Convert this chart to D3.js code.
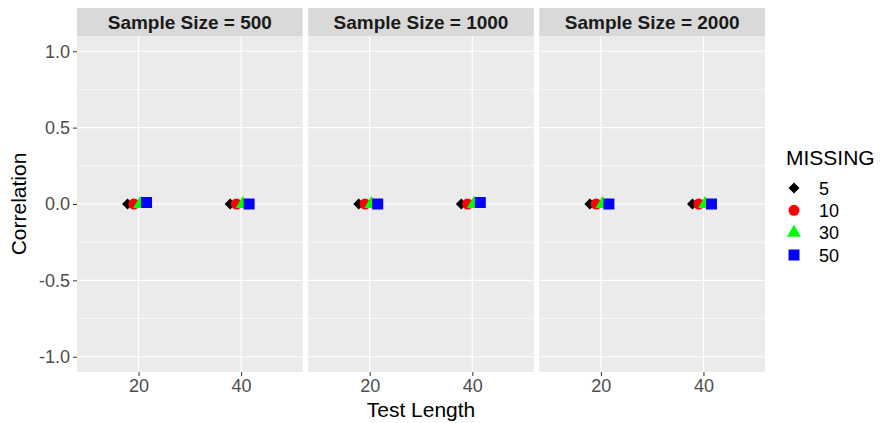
<!DOCTYPE html>
<html>
<head>
<meta charset="utf-8">
<script src="https://cdn.jsdelivr.net/npm/d3@7"></script>
<style>
  body { margin: 0; background: #fff; }
  svg { display: block; font-family: "Liberation Sans", Arial, sans-serif; }
</style>
</head>
<body>
<svg id="chart" width="880" height="423"></svg>
<script>
// data
const sampleSizes = [500, 1000, 2000];
const testLengths = [20, 40];
const missingLevels = [5, 10, 30, 50];
// order: [500-20, 500-40, 1000-20, 1000-40, 2000-20, 2000-40]
const missing5 = [0.00, 0.00, 0.00, 0.00, 0.00, 0.00];
const missing10 = [0.00, 0.00, 0.00, 0.00, 0.00, 0.00];
const missing30 = [0.00, 0.00, 0.00, 0.00, 0.00, 0.00];
const missing50 = [0.01, 0.00, 0.00, 0.01, 0.00, 0.00];
const yTicks = [-1.0, -0.5, 0.0, 0.5, 1.0];
const yMinor = [-0.75, -0.25, 0.25, 0.75];

const seriesValues = [missing5, missing10, missing30, missing50];
const colors = ["#000000", "#ff0000", "#00ff00", "#0000ff"];
const shapes = [
	d3.symbol().type(d3.symbolSquare).size(60),
	d3.symbol().type(d3.symbolCircle).size(95),
	d3.symbol().type(d3.symbolTriangle).size(85),
	d3.symbol().type(d3.symbolSquare).size(121)
];
const rotations = [45, 0, 0, 0];

const svg = d3.select("#chart");

const plotLeft = 77, plotRight = 765;
const panelTop = 36, panelBottom = 372;
const stripTop = 8;

const facetScale = d3.scaleBand().domain(sampleSizes).range([plotLeft, plotRight]).paddingInner(0.0238);
const panelW = facetScale.bandwidth();
const xScale = d3.scalePoint().domain(testLengths).range([0, panelW]).padding(0.6);
const dodge = d3.scalePoint().domain(missingLevels).range([-11, 8]);
const yScale = d3.scaleLinear().domain([-1.1, 1.1]).range([panelBottom, panelTop]);

const points = [];
sampleSizes.forEach((s, si) => {
	testLengths.forEach((t, ti) => {
		missingLevels.forEach((m, mi) => {
			points.push({ sample: s, length: t, missing: m, mi: mi, value: seriesValues[mi][si * 2 + ti] });
		});
	});
});

sampleSizes.forEach((s, si) => {
	const panelG = svg.append("g")
		.attr("transform", `translate(${facetScale(s)}, 0)`);

	// panel background
	panelG.append("rect")
		.attr("x", 0).attr("y", panelTop)
		.attr("width", panelW).attr("height", panelBottom - panelTop)
		.attr("fill", "#ebebeb");

	// minor grid
	panelG.selectAll(".minor")
		.data(yMinor)
		.enter()
		.append("line")
		.attr("x1", 0).attr("x2", panelW)
		.attr("y1", d => yScale(d)).attr("y2", d => yScale(d))
		.attr("stroke", "#fff").attr("stroke-width", 0.6);

	// major grid
	panelG.selectAll(".majorY")
		.data(yTicks)
		.enter()
		.append("line")
		.attr("x1", 0).attr("x2", panelW)
		.attr("y1", d => yScale(d)).attr("y2", d => yScale(d))
		.attr("stroke", "#fff").attr("stroke-width", 1.2);

	panelG.selectAll(".majorX")
		.data(testLengths)
		.enter()
		.append("line")
		.attr("x1", d => xScale(d)).attr("x2", d => xScale(d))
		.attr("y1", panelTop).attr("y2", panelBottom)
		.attr("stroke", "#fff").attr("stroke-width", 1.2);

	// strip
	panelG.append("rect")
		.attr("x", 0).attr("y", stripTop)
		.attr("width", panelW).attr("height", panelTop - stripTop)
		.attr("fill", "#d9d9d9");
	panelG.append("text")
		.attr("x", panelW / 2)
		.attr("y", (stripTop + panelTop) / 2 + 7)
		.attr("text-anchor", "middle")
		.attr("font-size", "19px")
		.attr("font-weight", "bold")
		.attr("fill", "#1a1a1a")
		.text(`Sample Size = ${s}`);

	// x axis
	const xAxisG = panelG.append("g")
		.attr("transform", `translate(0, ${panelBottom})`)
		.call(d3.axisBottom(xScale).tickSize(4).tickPadding(3));
	xAxisG.select(".domain").remove();
	xAxisG.selectAll("line").attr("stroke", "#333333");
	xAxisG.selectAll("text")
		.attr("font-size", "18px")
		.attr("fill", "#4d4d4d")
		.attr("font-family", "Liberation Sans, Arial, sans-serif");

	// points
	panelG.selectAll(".pt")
		.data(points.filter(p => p.sample === s))
		.enter()
		.append("path")
		.attr("d", p => shapes[p.mi]())
		.attr("transform", p => `translate(${xScale(p.length) + dodge(p.missing)}, ${yScale(p.value)}) rotate(${rotations[p.mi]})`)
		.attr("fill", p => colors[p.mi]);
});

// y axis
const yAxisG = svg.append("g")
	.attr("transform", `translate(${plotLeft}, 0)`)
	.call(d3.axisLeft(yScale).tickValues(yTicks).tickFormat(d => d.toFixed(1)).tickSize(4).tickPadding(3));
yAxisG.select(".domain").remove();
yAxisG.selectAll("line").attr("stroke", "#333333");
yAxisG.selectAll("text")
	.attr("font-size", "18px")
	.attr("fill", "#4d4d4d")
	.attr("font-family", "Liberation Sans, Arial, sans-serif");

// axis titles
svg.append("text")
	.attr("x", (plotLeft + plotRight) / 2)
	.attr("y", 417)
	.attr("text-anchor", "middle")
	.attr("font-size", "21px")
	.attr("fill", "#000")
	.text("Test Length");

svg.append("text")
	.attr("transform", `translate(26, ${(panelTop + panelBottom) / 2}) rotate(-90)`)
	.attr("text-anchor", "middle")
	.attr("font-size", "21px")
	.attr("fill", "#000")
	.text("Correlation");

// legend
const legendG = svg.append("g").attr("transform", "translate(780, 0)");
legendG.append("text")
	.attr("x", 6).attr("y", 165)
	.attr("font-size", "21px")
	.attr("fill", "#000")
	.text("MISSING");

const legendY = d3.scalePoint().domain(missingLevels).range([188, 255]);
missingLevels.forEach((m, mi) => {
	legendG.append("path")
		.attr("d", shapes[mi]())
		.attr("transform", `translate(14, ${legendY(m)}) rotate(${rotations[mi]})`)
		.attr("fill", colors[mi]);
	legendG.append("text")
		.attr("x", 39).attr("y", legendY(m) + 6.5)
		.attr("font-size", "18px")
		.attr("fill", "#000")
		.text(m);
});
</script>
</body>
</html>
